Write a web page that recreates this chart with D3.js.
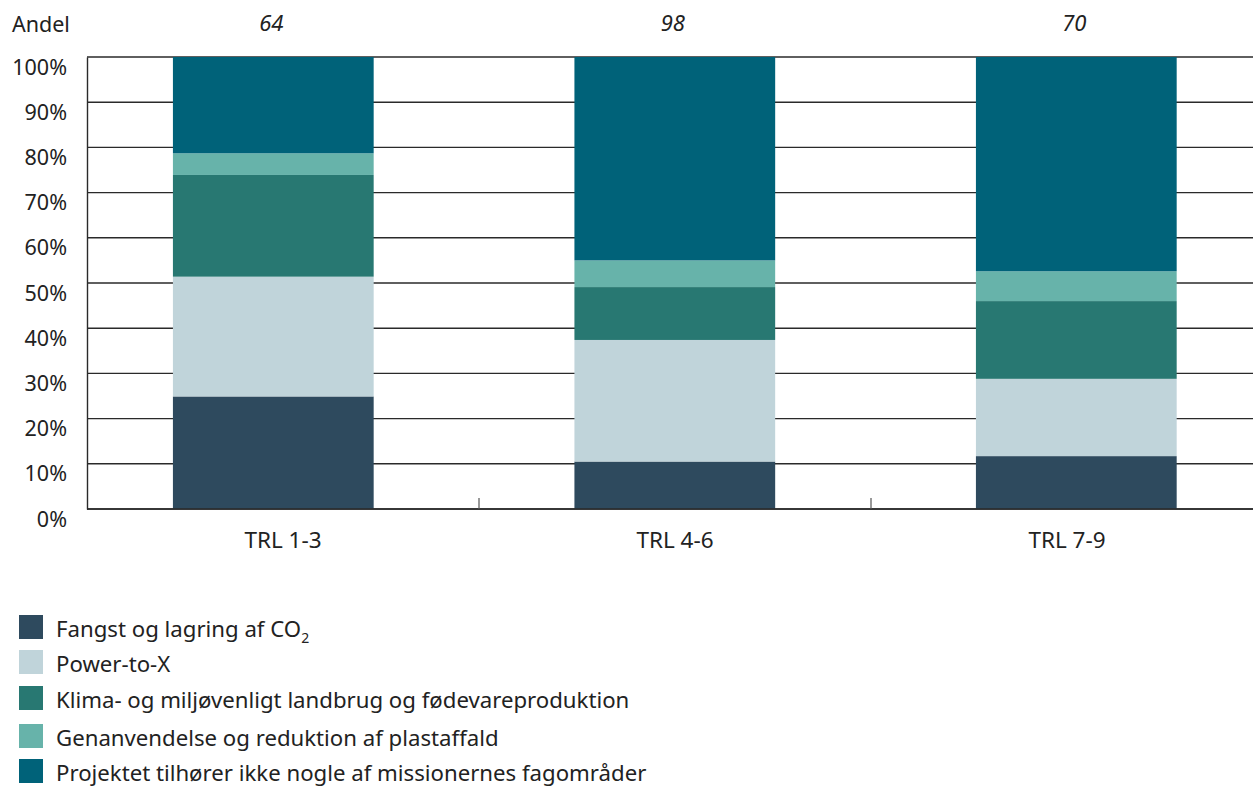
<!DOCTYPE html>
<html>
<head>
<meta charset="utf-8">
<script src="https://cdn.jsdelivr.net/npm/d3@7"></script>
<style>
  html, body { margin: 0; padding: 0; background: #fff; }
  svg { display: block; font-family: "Noto Sans", "Open Sans", sans-serif; }
</style>
</head>
<body>
<svg id="chart" width="1253" height="787"></svg>
<script>
// Categories (technology readiness levels) and number of projects per group
const categories = ["TRL 1-3", "TRL 4-6", "TRL 7-9"];
const counts = [64, 98, 70];

// Series shares in percent, bottom to top
const seriesNames = [
  "Fangst og lagring af CO2",
  "Power-to-X",
  "Klima- og miljøvenligt landbrug og fødevareproduktion",
  "Genanvendelse og reduktion af plastaffald",
  "Projektet tilhører ikke nogle af missionernes fagområder"
];
const fangst      = [24.9, 10.5, 11.7];
const powerToX    = [26.5, 26.9, 17.1];
const klima       = [22.5, 11.7, 17.2];
const genanvend   = [4.8, 5.9, 6.6];
const ikkeMission = [21.3, 45.0, 47.4];

const yTicks = [0, 10, 20, 30, 40, 50, 60, 70, 80, 90, 100];
const colors = ["#2e4a5e", "#c0d4da", "#287872", "#67b3aa", "#006279"];

const seriesValues = [fangst, powerToX, klima, genanvend, ikkeMission];
const keys = seriesNames.map((_, i) => "s" + i);
const rows = categories.map((c, j) => {
  const r = { cat: c };
  keys.forEach((k, i) => r[k] = seriesValues[i][j]);
  return r;
});

const svg = d3.select("#chart");
const plotLeft = 87, plotRight = 1263, plotTop = 57, plotBottom = 509;

const y = d3.scaleLinear().domain([0, 100]).range([plotBottom, plotTop]);
// Bars
const x = d3.scaleBand().domain(categories).range([plotLeft, 1262.6]).paddingInner(0.5).paddingOuter(0.214);
// Category divisions: axis ticks and category labels
const xDiv = d3.scaleBand().domain(categories).range([plotLeft, plotRight]).padding(0);

// Gridlines
svg.append("g")
  .selectAll("line")
  .data(yTicks)
  .join("line")
  .attr("x1", plotLeft).attr("x2", 1253)
  .attr("y1", d => y(d)).attr("y2", d => y(d))
  .attr("stroke", "#2a2a2a").attr("stroke-width", 1.4);

// Y axis labels (set just below their gridline)
const yAxis = d3.axisLeft(y).tickValues(yTicks).tickFormat(d => d + "%").tickSize(0).tickPadding(20);
const gy = svg.append("g").attr("transform", `translate(${plotLeft},0)`).call(yAxis);
gy.select(".domain").attr("stroke", "#2a2a2a").attr("stroke-width", 1.4);
gy.selectAll("text")
  .attr("font-size", 21.5)
  .attr("fill", "#222")
  .attr("font-family", "Noto Sans")
  .attr("dy", "0")
  .attr("y", 17);

// Stacked bars
const stack = d3.stack().keys(keys)(rows);
svg.append("g")
  .selectAll("g")
  .data(stack)
  .join("g")
  .attr("fill", (d, i) => colors[i])
  .selectAll("rect")
  .data(d => d)
  .join("rect")
  .attr("x", d => x(d.data.cat))
  .attr("width", x.bandwidth())
  .attr("y", d => y(d[1]))
  .attr("height", d => y(d[0]) - y(d[1]));

// Baseline
svg.append("line")
  .attr("x1", plotLeft).attr("x2", 1253)
  .attr("y1", y(0)).attr("y2", y(0))
  .attr("stroke", "#2a2a2a").attr("stroke-width", 1.4);

// Division ticks between categories
svg.append("g")
  .selectAll("line")
  .data(categories.slice(1))
  .join("line")
  .attr("x1", d => xDiv(d)).attr("x2", d => xDiv(d))
  .attr("y1", y(0) - 11).attr("y2", y(0))
  .attr("stroke", "#555").attr("stroke-width", 1.2);

// Category labels
svg.append("g")
  .selectAll("text")
  .data(categories)
  .join("text")
  .attr("x", d => xDiv(d) + xDiv.bandwidth() / 2)
  .attr("y", 548)
  .attr("text-anchor", "middle")
  .attr("font-size", 22.5)
  .attr("fill", "#222")
  .text(d => d);

// Project counts above the bars
svg.append("g")
  .selectAll("text")
  .data(categories)
  .join("text")
  .attr("x", d => x(d) + x.bandwidth() / 2 - 2)
  .attr("y", 31)
  .attr("text-anchor", "middle")
  .attr("font-size", 22)
  .attr("font-style", "italic")
  .attr("fill", "#222")
  .text((d, i) => counts[i]);

// Axis title
svg.append("text")
  .attr("x", 12).attr("y", 31.5)
  .attr("font-size", 21.5)
  .attr("fill", "#222")
  .text("Andel");

// Legend
const legendY = [627, 662, 698, 736, 771];
const lg = svg.append("g")
  .selectAll("g")
  .data(seriesNames)
  .join("g")
  .attr("transform", (d, i) => `translate(19,${legendY[i]})`);
lg.append("rect")
  .attr("x", 0).attr("y", -12).attr("width", 24).attr("height", 24)
  .attr("fill", (d, i) => colors[i]);
lg.append("text")
  .attr("x", 37).attr("y", 10)
  .attr("font-size", 22.2)
  .attr("fill", "#222")
  .each(function (d) {
    const t = d3.select(this);
    if (d.endsWith("CO2")) {
      t.append("tspan").text(d.slice(0, -1));
      t.append("tspan").attr("dy", 6).attr("font-size", 14).text("2");
    } else {
      t.text(d);
    }
  });
</script>
</body>
</html>
